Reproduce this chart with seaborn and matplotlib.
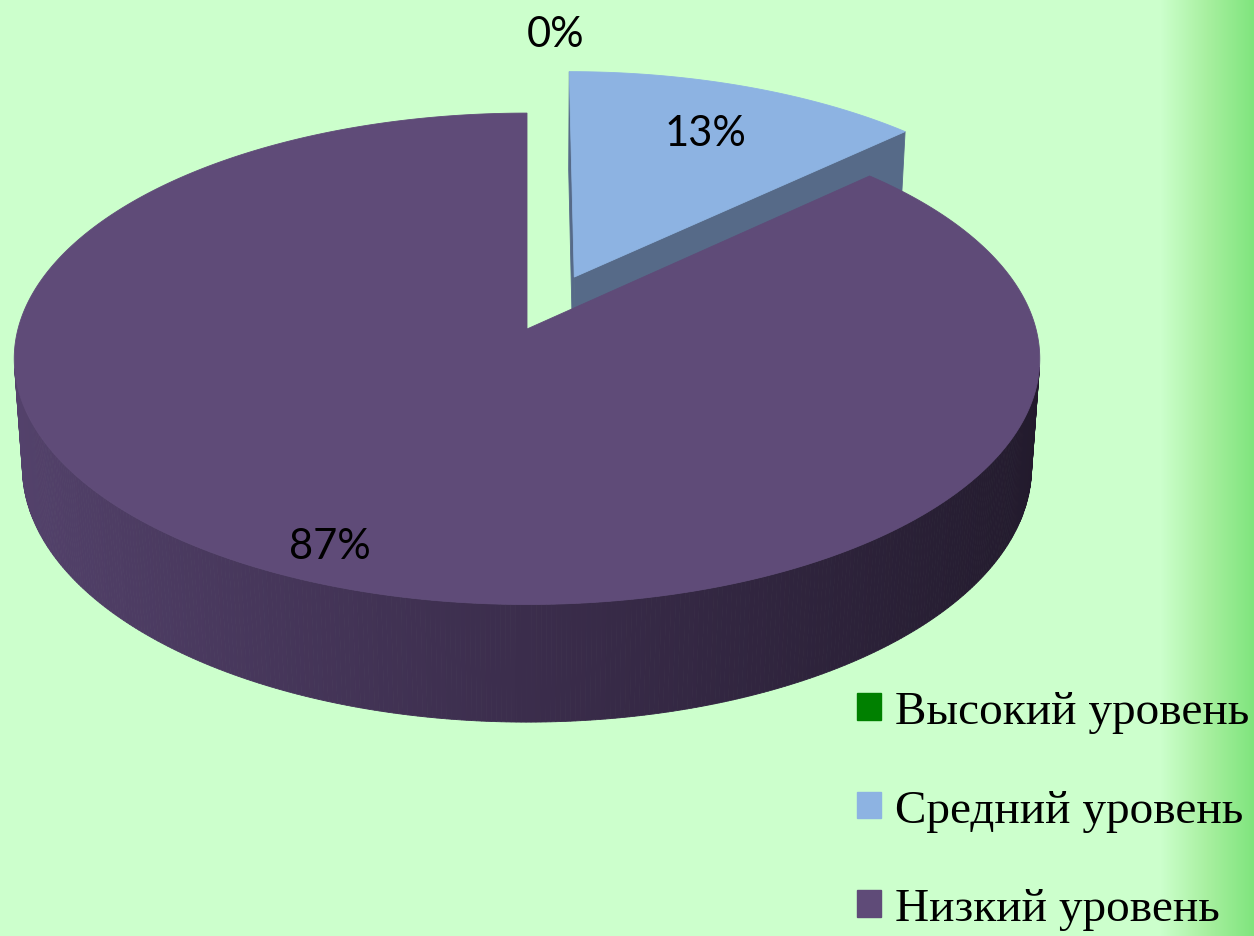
import numpy as np
import matplotlib.pyplot as plt
import seaborn as sns
from matplotlib.patches import Polygon, Patch

# data
levels = ['Высокий уровень', 'Средний уровень', 'Низкий уровень']
shares = [0, 13, 87]
pct_labels = ['0%', '13%', '87%']
top_colors = ['#008000', '#8db3e2', '#5f4b78']
side_colors = ['#006000', '#566a88', '#3b2d4c']
explode = [0.0, 0.24, 0.0]
label_r = [1.43, 0.74, 0.88]

sns.set_theme(style='white')

# 3d perspective settings
tilt = np.radians(28.4)
dist = 7.26
depth = 0.245
cam = np.array([0.0, -dist * np.cos(tilt), dist * np.sin(tilt)])


def project(pts):
    pts = np.asarray(pts, dtype=float)
    X, Y, Z = pts[:, 0], pts[:, 1], pts[:, 2]
    v = Y * np.sin(tilt) + Z * np.cos(tilt)
    w = Y * np.cos(tilt) - Z * np.sin(tilt)
    s = dist / (dist + w)
    return np.column_stack([X * s, v * s])


fig = plt.figure(figsize=(12.54, 9.37), dpi=100)
fig.patch.set_facecolor('#ccffcc')

# background with green fade on the right edge
bg = fig.add_axes([0, 0, 1, 1], zorder=0)
xs = np.arange(1254)
fade = np.clip((xs - 1160) / 94.0, 0, 1)
bg_cmap = sns.blend_palette(['#ccffcc', '#a8f0a0', '#80e57e'], as_cmap=True)
bg.imshow(fade[None, :], aspect='auto', cmap=bg_cmap, extent=[0, 1, 0, 1])
bg.axis('off')

ax = fig.add_axes([0, 0, 1, 1], zorder=1)
ax.patch.set_alpha(0)
unit_px, cx_px, cy_px = 509, 527, 330
ax.set_xlim(-cx_px / unit_px, (1254 - cx_px) / unit_px)
ax.set_ylim(-(937 - cy_px) / unit_px, cy_px / unit_px)
ax.axis('off')

# wall gradient for the big slice (lighter on the left, dark on the right)
wall_cmap = sns.blend_palette(['#54426c', '#3b2d4c', '#221a2c'], as_cmap=True)

total = sum(shares)
start = 90.0
for i, share in enumerate(shares):
    sweep = 360.0 * share / total
    hi = np.radians(start)
    lo = np.radians(start - sweep)
    start -= sweep
    mid = (lo + hi) / 2
    ox, oy = explode[i] * np.cos(mid), explode[i] * np.sin(mid)

    # label position
    lx, ly = project([[ox + label_r[i] * np.cos(mid), oy + label_r[i] * np.sin(mid), 0]])[0]
    ax.text(lx, ly, pct_labels[i], ha='left' if share == 0 else 'center', va='center',
            fontsize=30, family='Lato', color='black', zorder=10)
    if share == 0:
        continue

    t = np.linspace(lo, hi, max(int(sweep * 2), 8))
    # outer wall
    for t1, t2 in zip(t[:-1], t[1:]):
        tm = (t1 + t2) / 2
        p = np.array([ox + np.cos(tm), oy + np.sin(tm), 0])
        nrm = np.array([np.cos(tm), np.sin(tm), 0])
        if nrm @ (cam - p) > 1e-6:
            quad = project([[ox + np.cos(t1), oy + np.sin(t1), 0],
                            [ox + np.cos(t2), oy + np.sin(t2), 0],
                            [ox + np.cos(t2), oy + np.sin(t2), -depth],
                            [ox + np.cos(t1), oy + np.sin(t1), -depth]])
            c = wall_cmap((np.cos(tm) + 1) / 2) if i == 2 else side_colors[i]
            ax.add_patch(Polygon(quad, closed=True, facecolor=c, edgecolor=c, lw=0.6))
    # radial walls
    for ang, nrm in [(lo, np.array([np.sin(lo), -np.cos(lo), 0])),
                     (hi, np.array([-np.sin(hi), np.cos(hi), 0]))]:
        p = np.array([ox, oy, 0])
        if nrm @ (cam - p) > 1e-6:
            wall = project([[ox, oy, 0],
                            [ox + np.cos(ang), oy + np.sin(ang), 0],
                            [ox + np.cos(ang), oy + np.sin(ang), -depth],
                            [ox, oy, -depth]])
            ax.add_patch(Polygon(wall, closed=True, facecolor=side_colors[i],
                                 edgecolor=side_colors[i], lw=0.6))
    # top face
    rim = [[ox + np.cos(a), oy + np.sin(a), 0] for a in t]
    top = project([[ox, oy, 0]] + rim)
    ax.add_patch(Polygon(top, closed=True, facecolor=top_colors[i],
                         edgecolor=top_colors[i], lw=0.6))

handles = [Patch(facecolor=c, edgecolor=c) for c in top_colors]
fig.legend(handles, levels, loc='upper left', bbox_to_anchor=(857 / 1254, 1 - 692 / 937),
           frameon=False, prop={'family': 'Liberation Serif', 'size': 34},
           labelcolor='black', handlelength=0.5, handleheight=0.5, handletextpad=0.3,
           labelspacing=1.18, borderaxespad=0, borderpad=0)

plt.savefig('out.png', dpi=100, facecolor=fig.get_facecolor())
plt.close()
